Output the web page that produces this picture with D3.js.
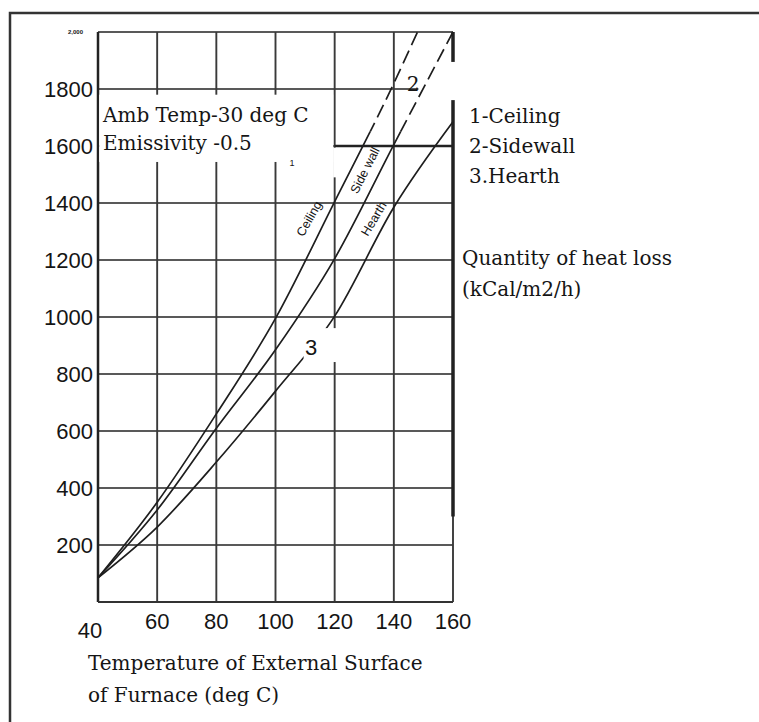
<!DOCTYPE html>
<html>
<head>
<meta charset="utf-8">
<script src="https://cdn.jsdelivr.net/npm/d3@7"></script>
<style>
body { margin: 0; background: #fff; }
text { fill: #151515; }
.num { font-family: "Liberation Sans", Arial, sans-serif; font-size: 22px; }
.note { font-family: "DejaVu Serif", serif; font-size: 20px; }
.tag { font-family: "Liberation Sans", Arial, sans-serif; font-size: 12.5px; }
</style>
</head>
<body>
<svg id="chart"></svg>
<script>
// values
var xTicks = [40, 60, 80, 100, 120, 140, 160];
var yTicks = [200, 400, 600, 800, 1000, 1200, 1400, 1600, 1800];

var ceilingTemp = [40, 60, 80, 100, 120, 140, 148];
var ceiling = [85, 350, 660, 995, 1405, 1820, 2000];
var sidewallTemp = [40, 60, 80, 100, 120, 140, 160];
var sidewall = [85, 323, 610, 885, 1205, 1605, 2000];
var hearthTemp = [40, 60, 80, 100, 120, 140, 160];
var hearth = [85, 263, 491, 740, 1003, 1385, 1685];

var legendLines = ["1-Ceiling", "2-Sidewall", "3.Hearth"];
var curveTags = ["Ceiling", "Side wall", "Hearth"];
var yTitle = ["Quantity of heat loss", "(kCal/m2/h)"];
var xTitle = ["Temperature of External Surface", "of Furnace (deg C)"];
var notes = ["Amb Temp-30 deg C", "Emissivity -0.5"];

var W = 759, H = 722;
var svg = d3.select("#chart").attr("width", W).attr("height", H);

var x = d3.scaleLinear().domain([40, 160]).range([98, 453]);
var y = d3.scaleLinear().domain([0, 2000]).range([602, 32]);

// outer frame (top and left only, like the scan)
svg.append("path")
	.attr("d", "M10," + H + " V13 H" + W)
	.attr("fill", "none").attr("stroke", "#333").attr("stroke-width", 2.5);

var grid = svg.append("g");

grid.selectAll(".hl")
	.data(yTicks.concat([2000]))
	.enter().append("line")
	.attr("x1", x(40)).attr("x2", x(160))
	.attr("y1", function(d) { return y(d); })
	.attr("y2", function(d) { return y(d); })
	.attr("stroke", "#595959").attr("stroke-width", 1.8);

grid.selectAll(".vl")
	.data(xTicks.slice(1))
	.enter().append("line")
	.attr("x1", function(d) { return x(d); })
	.attr("x2", function(d) { return x(d); })
	.attr("y1", y(0)).attr("y2", y(2000))
	.attr("stroke", "#3a3a3a").attr("stroke-width", 1.9);

// axes
grid.append("line")
	.attr("x1", x(40)).attr("x2", x(40)).attr("y1", y(0)).attr("y2", y(2000))
	.attr("stroke", "#222").attr("stroke-width", 2.5);
grid.append("line")
	.attr("x1", x(40)).attr("x2", x(160)).attr("y1", y(0)).attr("y2", y(0))
	.attr("stroke", "#333").attr("stroke-width", 2);
// heavier right edge and 1600 stub
grid.append("line")
	.attr("x1", x(160)).attr("x2", x(160)).attr("y1", y(300)).attr("y2", y(2000))
	.attr("stroke", "#222").attr("stroke-width", 3.5);
grid.append("line")
	.attr("x1", x(120)).attr("x2", x(160)).attr("y1", y(1600)).attr("y2", y(1600))
	.attr("stroke", "#222").attr("stroke-width", 2.6);

// white patches where the scan's labels erased the grid
function blank(x0, x1, y0, y1) {
	svg.append("rect")
		.attr("x", x(x0)).attr("y", y(y1))
		.attr("width", x(x1) - x(x0)).attr("height", y(y0) - y(y1))
		.attr("fill", "#fff");
}
blank(40.4, 119.5, 1544, 1780);
blank(119.5, 120.6, 1490, 1594);
blank(148.3, 161.5, 1761, 1895);

// curves
var line = d3.line()
	.x(function(d) { return x(d[0]); })
	.y(function(d) { return y(d[1]); })
	.curve(d3.curveMonotoneX);

var defs = svg.append("defs");
defs.append("clipPath").attr("id", "low").append("rect")
	.attr("x", 0).attr("width", W).attr("y", y(1650)).attr("height", y(0) - y(1650) + 5);
defs.append("clipPath").attr("id", "high").append("rect")
	.attr("x", 0).attr("width", W).attr("y", 0).attr("height", y(1650));

var series = [
	{ t: ceilingTemp, v: ceiling, dash: true },
	{ t: sidewallTemp, v: sidewall, dash: true },
	{ t: hearthTemp, v: hearth, dash: false }
];

series.forEach(function(s) {
	var pts = s.t.map(function(t, i) { return [t, s.v[i]]; });
	svg.append("path")
		.attr("d", line(pts))
		.attr("fill", "none").attr("stroke", "#1e1e1e").attr("stroke-width", 1.7)
		.attr("clip-path", s.dash ? "url(#low)" : null);
	if (s.dash) {
		svg.append("path")
			.attr("d", line(pts))
			.attr("fill", "none").attr("stroke", "#1e1e1e").attr("stroke-width", 1.7)
			.attr("stroke-dasharray", "14,6")
			.attr("clip-path", "url(#high)");
	}
});

// gap round the "3"
blank(109.5, 121.5, 842, 961);

// tick labels
svg.selectAll(".yl")
	.data(yTicks)
	.enter().append("text")
	.attr("class", "num")
	.attr("x", x(40) - 5)
	.attr("y", function(d) { return y(d); })
	.attr("dy", "0.36em")
	.attr("text-anchor", "end")
	.text(function(d) { return d; });

svg.append("text")
	.attr("x", x(40) - 30).attr("y", y(2000) + 2)
	.style("font-family", "Liberation Sans, sans-serif")
	.style("font-size", "6px").style("font-weight", "bold")
	.text("2,000");

svg.selectAll(".xl")
	.data(xTicks)
	.enter().append("text")
	.attr("class", "num")
	.attr("x", function(d, i) { return i == 0 ? x(d) - 8 : x(d); })
	.attr("y", function(d, i) { return i == 0 ? y(0) + 36 : y(0) + 27; })
	.attr("text-anchor", "middle")
	.text(function(d) { return d; });

// curve tags
var tagPos = [[111.3, 1345, -60], [130.2, 1515, -63], [133.2, 1345, -59]];
svg.selectAll(".tag")
	.data(curveTags)
	.enter().append("text")
	.attr("class", "tag")
	.attr("text-anchor", "middle")
	.attr("dy", "0.35em")
	.attr("transform", function(d, i) {
		var p = tagPos[i];
		return "translate(" + x(p[0]) + "," + y(p[1]) + ") rotate(" + p[2] + ")";
	})
	.text(function(d) { return d; });

// curve numbers
svg.append("text").attr("class", "note").attr("x", x(146.5)).attr("y", y(1793))
	.attr("text-anchor", "middle").text("2");
svg.append("text").attr("class", "num").attr("x", x(112)).attr("y", y(867))
	.attr("text-anchor", "middle").text("3");
svg.append("text").attr("x", x(105.6)).attr("y", y(1530))
	.style("font-family", "Liberation Sans, sans-serif").style("font-size", "9px")
	.attr("text-anchor", "middle").text("1");

// notes
svg.selectAll(".nt")
	.data(notes)
	.enter().append("text")
	.attr("class", "note")
	.attr("x", 103)
	.attr("y", function(d, i) { return 122 + i * 28; })
	.text(function(d) { return d; });

svg.selectAll(".lg")
	.data(legendLines)
	.enter().append("text")
	.attr("class", "note")
	.attr("x", 469)
	.attr("y", function(d, i) { return 123 + i * 30; })
	.text(function(d) { return d; });

svg.selectAll(".yt")
	.data(yTitle)
	.enter().append("text")
	.attr("class", "note")
	.attr("x", 462)
	.attr("y", function(d, i) { return 265 + i * 31; })
	.text(function(d) { return d; });

svg.selectAll(".xt")
	.data(xTitle)
	.enter().append("text")
	.attr("class", "note")
	.attr("x", 88)
	.attr("y", function(d, i) { return 670 + i * 32; })
	.text(function(d) { return d; });
</script>
</body>
</html>
